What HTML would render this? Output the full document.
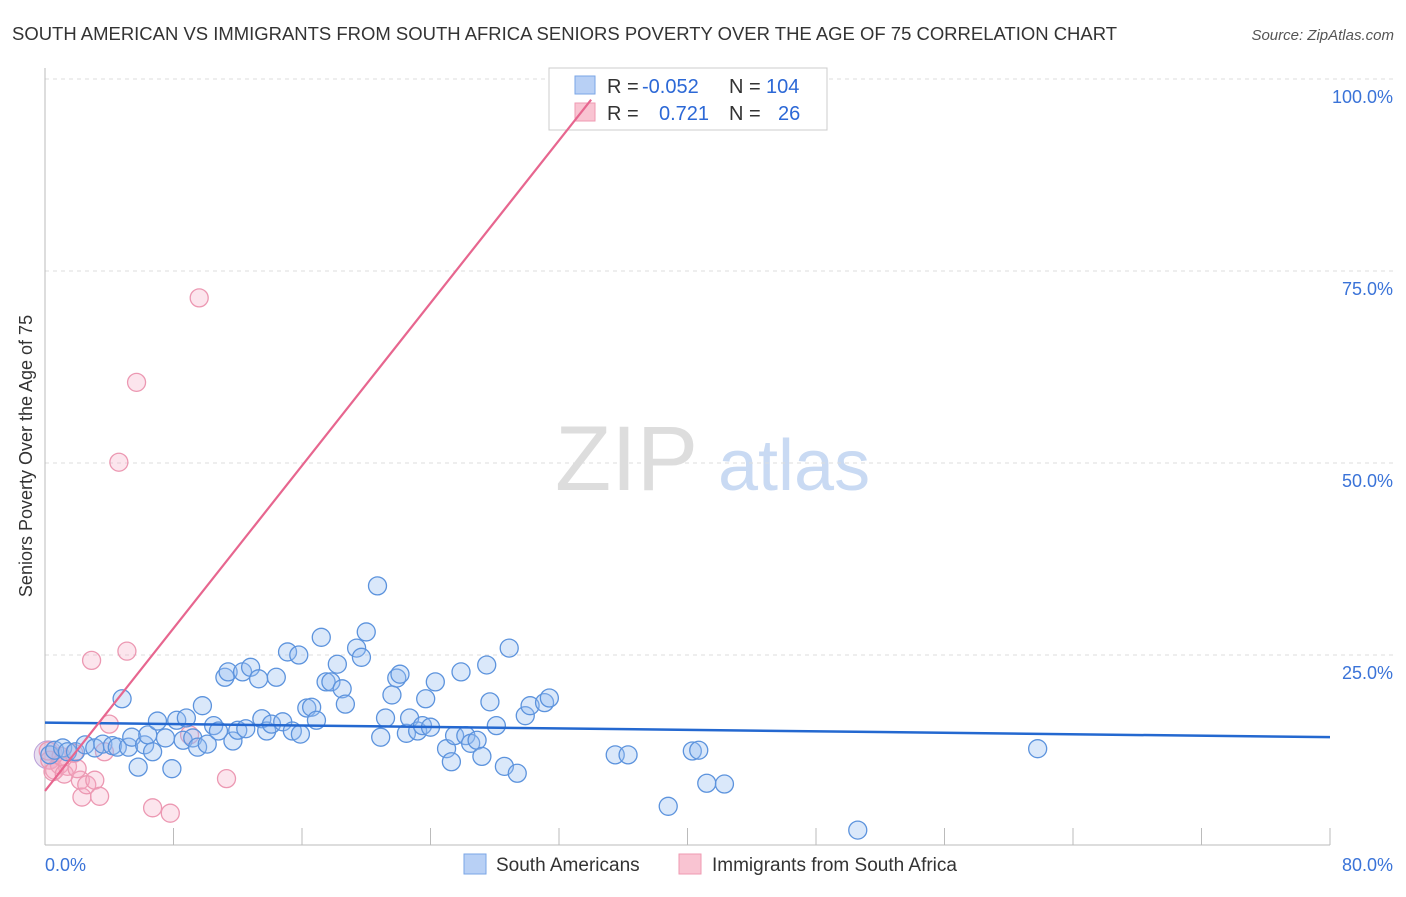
<!DOCTYPE html>
<html><head><meta charset="utf-8"><style>
body{margin:0;background:#fff;font-family:"Liberation Sans",sans-serif;}
svg text{font-family:"Liberation Sans",sans-serif;}
</style></head><body>
<svg id="c" width="1406" height="892">
<text x="12" y="40" font-size="18" fill="#333" textLength="1105" lengthAdjust="spacingAndGlyphs">SOUTH AMERICAN VS IMMIGRANTS FROM SOUTH AFRICA SENIORS POVERTY OVER THE AGE OF 75 CORRELATION CHART</text>
<text x="1394" y="40" font-size="15" fill="#555" font-style="italic" text-anchor="end">Source: ZipAtlas.com</text>
<text x="32" y="456" font-size="18" fill="#333" text-anchor="middle" transform="rotate(-90 32 456)">Seniors Poverty Over the Age of 75</text>
<g><text x="555" y="490" font-size="92" fill="#ddd" font-family="Liberation Serif">ZIP</text><text x="718" y="490" font-size="72" fill="#c9daf3">atlas</text></g>
<g id="grid"></g><g id="axes"></g><g id="pts"></g>
<g>
<rect x="549" y="68" width="278" height="62" fill="#fff" stroke="#ccc"/>
<rect x="575" y="76" width="20" height="18" fill="#b8d0f5" stroke="#7aa6e6"/>
<rect x="575" y="103" width="20" height="18" fill="#f9c4d2" stroke="#ef9ab2"/>
<text x="607" y="93" font-size="20" fill="#333">R = </text><text x="642" y="93" font-size="20" fill="#2c68d6">-0.052</text>
<text x="729" y="93" font-size="20" fill="#333">N = </text><text x="766" y="93" font-size="20" fill="#2c68d6">104</text>
<text x="607" y="120" font-size="20" fill="#333">R = </text><text x="659" y="120" font-size="20" fill="#2c68d6">0.721</text>
<text x="729" y="120" font-size="20" fill="#333">N = </text><text x="778" y="120" font-size="20" fill="#2c68d6">26</text>
</g>
<g id="lines"></g>
<g>
<rect x="464" y="854" width="22" height="20" fill="#b8d0f5" stroke="#7aa6e6"/>
<text x="496" y="871" font-size="19" fill="#333">South Americans</text>
<rect x="679" y="854" width="22" height="20" fill="#f9c4d2" stroke="#ef9ab2"/>
<text x="712" y="871" font-size="19" fill="#333">Immigrants from South Africa</text>
</g>
</svg>
<script>
const blueX=[0.3,0.6,1.1,1.4,1.9,2.5,3.1,3.6,4.2,4.5,4.8,5.2,5.4,5.8,6.2,6.4,6.7,7.0,7.5,7.9,8.2,8.6,8.8,9.2,9.5,9.8,10.1,10.5,10.8,11.2,11.4,11.7,12.0,12.3,12.5,12.8,13.3,13.5,13.8,14.1,14.4,14.8,15.1,15.4,15.8,15.9,16.3,16.6,16.9,17.2,17.5,17.8,18.2,18.5,18.7,19.4,19.7,20.0,20.7,20.9,21.2,21.6,21.9,22.1,22.5,22.7,23.2,23.5,23.7,24.0,24.3,25.0,25.3,25.5,25.9,26.2,26.5,26.9,27.2,27.5,27.7,28.1,28.6,28.9,29.4,29.9,30.2,31.1,31.4,35.5,36.3,38.8,40.3,40.7,41.2,42.3,50.6,61.8];
const blueY=[12.0,12.6,12.9,12.4,12.4,13.3,12.9,13.4,13.2,13.0,19.3,13.0,14.3,10.4,13.3,14.6,12.4,16.4,14.2,10.2,16.5,13.9,16.8,14.2,13.0,18.4,13.4,15.8,15.1,22.1,22.8,13.8,15.2,22.8,15.4,23.4,21.9,16.7,15.1,16.0,22.1,16.3,25.4,15.1,25.0,14.7,18.1,18.2,16.5,27.3,21.5,21.5,23.8,20.6,18.6,25.9,24.7,28.0,34.0,14.3,16.8,19.8,22.0,22.5,14.8,16.8,15.1,15.8,19.3,15.6,21.5,12.8,11.1,14.5,22.8,14.5,13.5,13.9,11.8,23.7,18.9,15.8,10.5,25.9,9.6,17.1,18.4,18.8,19.4,12.0,12.0,5.3,12.5,12.6,8.3,8.2,2.2,12.8];
const pinkX=[0.3,0.6,0.9,1.4,2.2,2.3,2.6,2.9,3.1,3.4,3.7,4.0,4.6,5.1,5.7,6.7,7.8,9.0,9.6,11.3,0.2,1.0,1.8,0.5,1.2,2.0];
const pinkY=[11.3,10.0,10.7,10.5,8.7,6.5,8.1,24.3,8.7,6.6,12.4,16.0,50.1,25.5,60.5,5.1,4.4,14.6,71.5,8.9,12.5,11.8,12.2,9.8,9.5,10.2];
const blueTrend=[16.2,14.3];
const pinkTrend=[7.3,34.0,97.3];
const yTicks=[25,50,75,100];
const xTicks=[8,16,24,32,40,48,56,64,72,80];
const X=v=>45+v/80*1285, Y=v=>847-v/100*768;
const NS='http://www.w3.org/2000/svg';
function mk(p,t,a){const e=document.createElementNS(NS,t);for(const k in a)e.setAttribute(k,a[k]);p.appendChild(e);return e;}
const g=document.getElementById('grid'),ax=document.getElementById('axes'),pts=document.getElementById('pts'),ln=document.getElementById('lines');
yTicks.forEach(t=>{const l=mk(g,'line',{x1:45,x2:1394,y1:Y(t),y2:Y(t),stroke:'#ddd','stroke-dasharray':'4,4'});


const tx=mk(g,'text',{x:1393,y:Y(t)+24,'font-size':18,fill:'#3a73d8','text-anchor':'end'});tx.textContent=t.toFixed(1)+'%';

});
mk(ax,'line',{x1:45,x2:45,y1:68,y2:845,stroke:'#bbb'});
mk(ax,'line',{x1:45,x2:1330,y1:845,y2:845,stroke:'#bbb'});
xTicks.forEach(t=>{const l=mk(ax,'line',{x1:X(t),x2:X(t),y1:828,y2:845,stroke:'#bbb'});

});
[[0,'0.0%','start',45],[80,'80.0%','end',1393]].forEach(a=>{const tx=mk(ax,'text',{x:a[3],y:871,'font-size':18,fill:'#3a73d8','text-anchor':a[2]});tx.textContent=a[1];

});
const big=mk(pts,'circle',{cx:X(0.2),cy:Y(12),r:14,fill:'rgba(190,160,210,0.35)',stroke:'#b9a0d8'});


pinkX.forEach((v,i)=>{const c=mk(pts,'circle',{cx:X(v),cy:Y(pinkY[i]),r:9,fill:'rgba(245,170,195,0.3)',stroke:'#ec98b2','stroke-width':1.3});

});
blueX.forEach((v,i)=>{const c=mk(pts,'circle',{cx:X(v),cy:Y(blueY[i]),r:9,fill:'rgba(150,190,240,0.35)',stroke:'#5c93dd','stroke-width':1.3});

});
const bl=mk(ln,'line',{x1:X(0),y1:Y(blueTrend[0]),x2:X(80),y2:Y(blueTrend[1]),stroke:'#2468d0','stroke-width':2.5});


const pl=mk(ln,'line',{x1:X(0),y1:Y(pinkTrend[0]),x2:X(pinkTrend[1]),y2:Y(pinkTrend[2]),stroke:'#e7668f','stroke-width':2.2});


</script>
</body></html>
